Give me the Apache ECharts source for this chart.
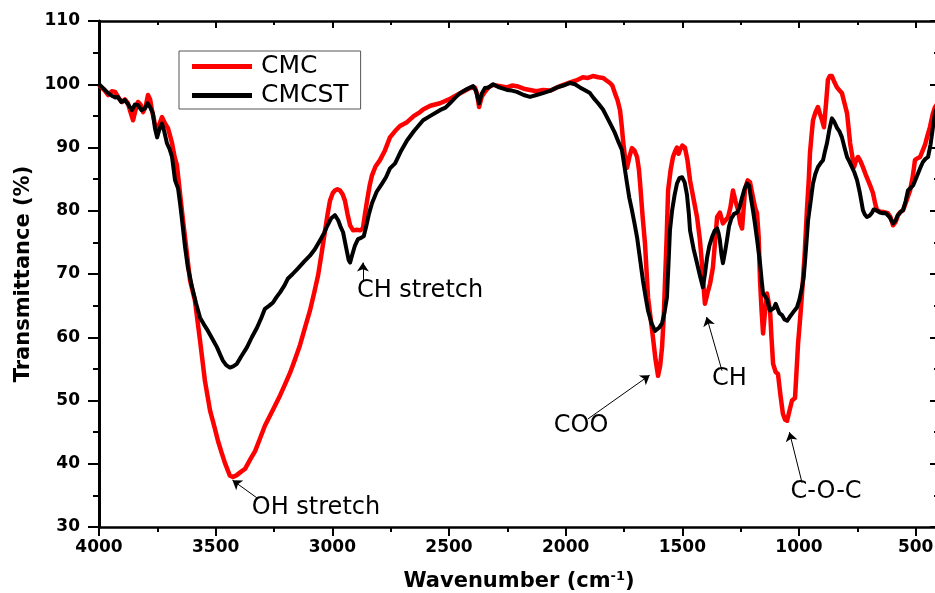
<!DOCTYPE html>
<html>
<head>
<meta charset="utf-8">
<title>FTIR spectra of CMC and CMCST</title>
<script src="https://cdn.jsdelivr.net/npm/echarts@6/dist/echarts.min.js"></script>
<style>
  html, body { margin: 0; padding: 0; background: #fff; }
  #chart { width: 935px; height: 593px; }
</style>
</head>
<body>
<div id="chart"></div>
<script>
// CMC spectrum: wavenumber (cm-1) and transmittance (%)
const cmcWavenumber = [4000,3996,3975,3961,3945,3931,3915,3901,3889,3876,3865,3854,3843,3833,3822,3811,3800,3790,3781,3773,3762,3751,3740,3730,3717,3704,3695,3687,3676,3666,3653,3640,3623,3610,3589,3567,3546,3524,3505,3490,3475,3460,3439,3426,3410,3396,3374,3350,3331,3310,3289,3255,3224,3200,3181,3160,3139,3115,3096,3078,3061,3045,3031,3020,3010,2998,2989,2978,2967,2956,2946,2935,2924,2911,2895,2881,2869,2860,2851,2840,2830,2815,2796,2775,2753,2731,2710,2680,2650,2624,2611,2580,2539,2500,2466,2430,2410,2389,2380,2371,2360,2346,2330,2311,2280,2251,2230,2209,2180,2153,2125,2097,2065,2037,2010,1981,1955,1926,1905,1883,1860,1840,1825,1810,1800,1789,1778,1767,1760,1754,1746,1737,1727,1716,1705,1694,1686,1681,1670,1660,1647,1636,1626,1615,1604,1595,1587,1580,1574,1567,1561,1550,1540,1530,1523,1516,1510,1500,1489,1478,1467,1450,1437,1425,1416,1408,1403,1392,1381,1369,1360,1351,1339,1326,1315,1304,1294,1283,1272,1261,1252,1244,1237,1231,1220,1210,1197,1188,1180,1173,1167,1160,1154,1147,1137,1130,1124,1118,1111,1100,1090,1080,1069,1060,1051,1040,1030,1017,1010,1004,995,987,976,966,958,953,946,940,930,919,910,901,893,884,876,868,859,848,837,826,816,805,794,781,764,755,747,736,726,715,704,693,683,674,666,655,640,619,608,597,586,576,565,554,540,524,512,503,492,481,470,460,450,439,426,417,405];
const cmcTransmittance = [99.9,100.2,99.0,98.3,98.9,98.8,97.8,97.2,97.6,97.0,95.6,94.3,96.0,97.2,96.8,95.6,96.5,98.3,97.6,95.9,94.0,92.4,93.8,94.8,93.8,93.0,91.8,90.7,88.5,87.2,82.8,78.5,73.2,69.0,65.8,59.5,53.1,48.4,45.8,43.6,41.8,40.1,38.1,37.9,38.2,38.6,39.2,40.8,42.0,44.0,46.0,48.5,50.8,52.8,54.4,56.5,58.7,61.8,64.2,67.0,69.8,73.5,76.9,79.5,81.6,82.8,83.2,83.4,83.2,82.6,81.6,79.5,77.7,76.9,77.0,76.9,77.2,79.5,81.6,84.0,85.6,87.0,88.0,89.5,91.6,92.6,93.4,94.0,95.0,95.6,96.0,96.6,97.0,97.6,98.3,99.0,99.4,99.5,98.5,96.4,98.0,98.8,99.5,99.9,99.7,99.5,99.8,99.7,99.3,99.1,98.9,99.1,99.0,99.5,99.9,100.3,100.6,101.1,101.0,101.3,101.1,101.0,100.6,100.2,99.8,98.6,97.5,95.9,93.5,91.1,88.5,86.8,88.5,89.9,89.5,88.5,86.5,84.3,79.0,74.8,66.3,63.0,60.0,56.5,53.9,55.5,58.4,63.0,69.0,76.0,83.2,86.5,88.5,89.5,90.0,89.0,89.6,90.3,90.0,88.0,84.8,81.5,79.0,75.5,71.7,67.5,65.3,67.0,68.5,71.0,75.0,79.0,79.7,78.0,78.5,79.0,80.5,83.2,81.5,80.1,78.0,77.2,80.5,83.5,84.8,84.5,82.1,80.5,79.6,76.0,69.0,64.0,60.6,63.5,66.9,65.5,64.2,60.0,55.8,54.5,54.2,51.0,47.9,47.0,46.8,48.5,50.0,50.4,55.0,59.0,63.0,66.9,73.0,80.1,85.0,89.1,92.0,94.3,95.5,96.4,95.3,94.3,93.2,97.0,100.7,101.3,101.3,100.3,99.5,99.0,98.6,97.0,95.4,90.7,86.9,88.0,88.5,87.8,86.9,85.8,84.8,83.8,82.8,81.2,80.1,79.9,79.8,79.6,79.0,77.7,78.2,79.3,79.8,80.1,81.5,83.2,85.5,88.0,88.3,88.5,89.5,90.4,91.8,93.2,95.4,96.4,97.0];

// CMCST spectrum: wavenumber (cm-1) and transmittance (%)
const cmcstWavenumber = [4000,3996,3980,3961,3945,3930,3919,3905,3889,3875,3859,3846,3833,3818,3803,3792,3781,3769,3760,3751,3740,3730,3720,3709,3698,3687,3674,3661,3652,3644,3631,3619,3610,3601,3585,3567,3550,3533,3515,3494,3480,3469,3455,3439,3425,3409,3390,3366,3345,3323,3305,3289,3270,3254,3240,3224,3205,3190,3170,3147,3120,3096,3075,3053,3035,3023,3005,2989,2975,2965,2954,2940,2930,2924,2915,2903,2890,2877,2865,2855,2843,2830,2810,2787,2770,2753,2731,2705,2680,2650,2611,2580,2539,2515,2496,2475,2453,2425,2397,2385,2371,2360,2346,2330,2311,2285,2251,2230,2209,2180,2153,2125,2097,2065,2037,2010,1981,1960,1939,1915,1896,1880,1861,1840,1823,1805,1789,1775,1759,1748,1737,1727,1716,1705,1694,1680,1669,1658,1647,1632,1617,1600,1587,1576,1566,1560,1553,1544,1533,1523,1512,1501,1490,1480,1472,1467,1452,1437,1425,1412,1403,1394,1384,1373,1362,1351,1345,1339,1332,1326,1317,1309,1300,1290,1278,1266,1255,1244,1233,1223,1214,1205,1197,1189,1178,1167,1160,1154,1146,1137,1130,1124,1116,1108,1100,1094,1084,1073,1062,1051,1040,1030,1020,1009,998,987,980,974,968,961,950,940,930,919,908,897,888,880,870,859,848,837,826,816,805,794,783,773,762,751,739,726,718,709,698,687,680,674,665,653,640,627,612,597,586,576,565,554,543,533,522,511,500,490,480,469,458,447,436,426,417,405];
const cmcstTransmittance = [100.0,100.2,99.3,98.6,98.2,97.9,98.0,97.2,97.5,96.8,95.9,96.8,96.7,95.9,96.2,97.0,96.4,95.4,93.0,91.6,93.0,93.8,92.5,90.7,89.8,88.5,84.8,83.5,81.0,78.5,74.2,71.0,69.5,67.9,65.5,63.1,62.0,61.0,59.8,58.4,57.2,56.3,55.6,55.2,55.4,55.8,57.0,58.4,60.0,61.5,63.0,64.5,65.0,65.5,66.3,67.1,68.2,69.3,70.0,70.9,72.0,72.9,73.9,75.3,76.5,77.5,78.8,79.3,78.5,77.5,76.6,74.0,72.2,71.8,73.0,74.5,75.5,75.7,76.0,77.5,79.5,81.2,83.0,84.3,85.3,86.7,87.5,89.5,91.1,92.6,94.3,95.0,95.9,96.3,97.0,97.8,98.6,99.2,99.7,99.0,97.0,98.5,99.4,99.5,100.0,99.5,99.1,99.0,98.8,98.3,98.0,98.3,98.6,99.0,99.5,99.8,100.2,100.0,99.5,99.0,98.6,97.8,97.0,96.0,94.8,93.5,92.3,91.0,89.6,87.0,84.3,82.0,80.1,78.0,75.8,72.0,69.0,66.5,64.2,62.2,61.0,61.5,62.2,64.0,66.3,71.0,76.9,80.0,82.5,84.3,85.2,85.3,84.5,82.5,79.5,76.9,74.0,71.7,69.8,67.9,70.0,72.6,74.5,75.8,76.8,77.2,76.5,75.3,73.0,71.7,73.5,75.3,77.5,78.8,79.5,79.7,80.5,82.1,83.5,84.3,84.0,81.8,80.0,78.0,75.0,71.7,69.0,66.9,66.5,66.0,65.0,64.2,63.9,64.6,65.3,65.0,63.8,63.5,62.8,62.6,63.2,63.7,64.2,64.7,66.0,67.9,69.5,72.1,75.0,78.5,81.5,84.3,85.8,86.9,87.5,88.0,89.5,90.7,92.8,94.6,94.0,93.1,92.5,91.6,90.0,88.5,87.7,86.9,86.0,84.8,82.8,80.1,79.4,79.0,79.2,79.7,80.2,80.4,80.0,79.7,79.6,79.6,79.0,78.0,78.5,79.3,79.8,80.1,81.5,83.2,83.6,84.0,85.0,85.9,86.8,87.7,88.2,88.5,90.5,93.2,95.5,96.5];

// Tick positions on the wavenumber axis
const xMajorTicks = [4000, 3500, 3000, 2500, 2000, 1500, 1000, 500];
const xMinorTicks = [3750, 3250, 2750, 2250, 1750, 1250, 750];

// Band assignments: label text, label anchor, arrow tail and arrow head
const bandLabels = ['OH stretch', 'CH stretch', 'COO', 'CH', 'C-O-C'];
const bandLabelAt = [[3070, 33.0], [2624, 67.4], [1934, 46.0], [1298, 53.4], [884, 35.5]];
const bandArrowFrom = [[3323, 34.6], [2869, 69.0], [1904, 47.1], [1330, 54.7], [987, 37.0]];
const bandArrowTo = [[3428, 37.4], [2869, 71.8], [1640, 54.0], [1396, 63.2], [1041, 45.0]];

const zip = (xs, ys) => xs.map((x, i) => [x, ys[i]]);

const tickFont = { fontFamily: 'DejaVu Sans', fontWeight: 'bold', fontSize: 17, color: '#000', formatter: (v) => String(v) };
const black = '#000';

const chart = echarts.init(document.getElementById('chart'), null, { renderer: 'canvas' });

const xBase = { type: 'value', min: 400, max: 4000, inverse: true, gridIndex: 0, splitLine: { show: false } };

chart.setOption({
  animation: false,
  backgroundColor: '#fff',
  grid: { left: 99, right: -4, top: 21, bottom: 66, containLabel: false, outerBoundsMode: 'none' },
  legend: {
    orient: 'vertical',
    left: 179,
    top: 51,
    padding: [3, 12, 1, 13],
    itemGap: 4,
    itemWidth: 60,
    itemHeight: 5,
    icon: 'rect',
    borderColor: '#555',
    borderWidth: 1,
    textStyle: { fontFamily: 'DejaVu Sans', fontSize: 25, color: '#000', padding: [0, 0, 0, 4] },
    data: ['CMC', 'CMCST']
  },
  xAxis: [
    Object.assign({}, xBase, {
      position: 'bottom',
      name: 'Wavenumber (cm{sup|-1})',
      nameLocation: 'middle',
      nameGap: 43,
      nameTextStyle: {
        fontFamily: 'DejaVu Sans', fontWeight: 'bold', fontSize: 21, color: '#000',
        rich: { sup: { fontFamily: 'DejaVu Sans', fontWeight: 'bold', fontSize: 13, color: '#000', padding: [0, 0, 10, 0] } }
      },
      axisLine: { show: true, lineStyle: { color: black, width: 2.5 } },
      axisTick: { show: true, inside: false, length: 9, lineStyle: { color: black, width: 2 }, customValues: xMajorTicks },
      axisLabel: Object.assign({ show: true, margin: 12, customValues: xMajorTicks }, tickFont)
    }),
    Object.assign({}, xBase, {
      position: 'bottom',
      axisLine: { show: false },
      axisTick: { show: true, inside: false, length: 5, lineStyle: { color: black, width: 2 }, customValues: xMinorTicks },
      axisLabel: { show: false }
    }),
    Object.assign({}, xBase, {
      position: 'top',
      axisLine: { show: true, lineStyle: { color: black, width: 2.5 } },
      axisTick: { show: true, inside: true, length: 7, lineStyle: { color: black, width: 2 }, customValues: xMajorTicks },
      axisLabel: { show: false }
    }),
    Object.assign({}, xBase, {
      position: 'top',
      axisLine: { show: false },
      axisTick: { show: true, inside: true, length: 4, lineStyle: { color: black, width: 2 }, customValues: xMinorTicks },
      axisLabel: { show: false }
    })
  ],
  yAxis: [
    {
      type: 'value', position: 'left', min: 30, max: 110, interval: 10,
      name: 'Transmittance (%)',
      nameLocation: 'middle',
      nameGap: 64,
      nameTextStyle: { fontFamily: 'DejaVu Sans', fontWeight: 'bold', fontSize: 21, color: '#000' },
      axisLine: { show: true, lineStyle: { color: black, width: 3 } },
      axisTick: { show: true, inside: false, length: 11, lineStyle: { color: black, width: 2 } },
      minorTick: { show: true, splitNumber: 2, length: 6, lineStyle: { color: black, width: 2 } },
      axisLabel: Object.assign({ margin: 19 }, tickFont),
      splitLine: { show: false }
    },
    {
      type: 'value', position: 'right', min: 30, max: 110, interval: 10,
      axisLine: { show: true, lineStyle: { color: black, width: 2.5 } },
      axisTick: { show: true, inside: true, length: 9, lineStyle: { color: black, width: 2 } },
      minorTick: { show: true, splitNumber: 2, length: 5, lineStyle: { color: black, width: 2 } },
      axisLabel: { show: false },
      splitLine: { show: false }
    }
  ],
  series: [
    {
      name: 'CMC',
      type: 'line',
      xAxisIndex: 0,
      yAxisIndex: 0,
      data: zip(cmcWavenumber, cmcTransmittance),
      showSymbol: false,
      symbol: 'none',
      color: '#ff0000',
      lineStyle: { color: '#ff0000', width: 4.5, join: 'round' },
      emphasis: { disabled: true }
    },
    {
      name: 'CMCST',
      type: 'line',
      xAxisIndex: 0,
      yAxisIndex: 0,
      data: zip(cmcstWavenumber, cmcstTransmittance),
      showSymbol: false,
      symbol: 'none',
      color: '#000000',
      lineStyle: { color: '#000000', width: 4, join: 'round' },
      emphasis: { disabled: true },
      markLine: {
        silent: true,
        symbol: ['none', 'arrow'],
        symbolSize: 9,
        label: { show: false },
        lineStyle: { color: black, width: 1, type: 'solid' },
        emphasis: { disabled: true },
        data: bandArrowFrom.map((p, i) => [{ coord: p }, { coord: bandArrowTo[i] }])
      },
      markPoint: {
        silent: true,
        symbol: 'rect',
        symbolSize: 1,
        itemStyle: { color: 'rgba(0,0,0,0)' },
        label: { show: true, position: 'inside', formatter: '{b}', fontFamily: 'DejaVu Sans', fontSize: 24, color: '#000' },
        emphasis: { disabled: true },
        data: bandLabels.map((t, i) => ({ name: t, coord: bandLabelAt[i] }))
      }
    }
  ]
});
</script>
</body>
</html>
